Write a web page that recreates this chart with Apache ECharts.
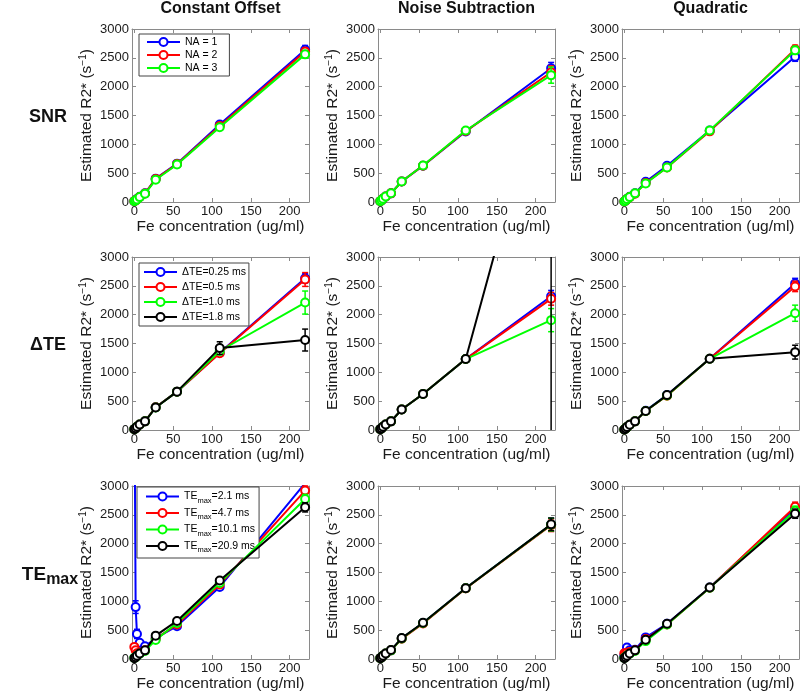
<!DOCTYPE html>
<html><head><meta charset="utf-8">
<script src="https://cdn.jsdelivr.net/npm/echarts@6/dist/echarts.min.js"></script>
<style>html,body{margin:0;padding:0;background:#fff}#c{width:800px;height:693px}</style>
</head><body><div id="c"></div>
<script>
// ---------- data ----------
const fe = [0, 1.7, 3.4, 6.9, 13.75, 27.5, 55, 110, 220];
const xTicks = [0, 50, 100, 150, 200];
const yTicks = [0, 500, 1000, 1500, 2000, 2500, 3000];
const columnTitles = ['Constant Offset', 'Noise Subtraction', 'Quadratic'];
const rowLabels = ['SNR', 'ΔTE', 'TEmax'];
const snrNames = ['NA = 1', 'NA = 2', 'NA = 3'];
const dteNames = ['ΔTE=0.25 ms', 'ΔTE=0.5 ms', 'ΔTE=1.0 ms', 'ΔTE=1.8 ms'];
const temNames = ['TEmax=2.1 ms', 'TEmax=4.7 ms', 'TEmax=10.1 ms', 'TEmax=20.9 ms'];

// Row 1: SNR
const snrCO_NA1 = [15, 30, 50, 90, 150, 405, 665, 1345, 2640];
const snrCO_NA2 = [15, 28, 48, 88, 148, 400, 658, 1320, 2610];
const snrCO_NA3 = [12, 26, 45, 85, 145, 385, 650, 1295, 2560];
const snrCO_NA1_err = [8, 8, 8, 10, 15, 25, 30, 40, 75];
const snrCO_NA2_err = [8, 8, 8, 10, 15, 25, 30, 40, 65];
const snrCO_NA3_err = [8, 8, 8, 10, 15, 25, 30, 40, 65];
const snrNS_NA1 = [15, 30, 55, 95, 150, 355, 630, 1222, 2320];
const snrNS_NA2 = [15, 30, 55, 95, 150, 355, 630, 1230, 2250];
const snrNS_NA3 = [15, 30, 55, 95, 152, 355, 632, 1240, 2200];
const snrNS_NA1_err = [8, 8, 8, 10, 15, 20, 25, 35, 100];
const snrNS_NA2_err = [8, 8, 8, 10, 15, 20, 25, 35, 110];
const snrNS_NA3_err = [8, 8, 8, 10, 15, 20, 25, 35, 140];
const snrQD_NA1 = [10, 25, 50, 90, 150, 352, 628, 1238, 2520];
const snrQD_NA2 = [10, 25, 50, 85, 145, 330, 600, 1225, 2650];
const snrQD_NA3 = [10, 25, 50, 85, 150, 322, 600, 1242, 2630];
const snrQD_NA1_err = [8, 8, 8, 10, 15, 20, 25, 35, 80];
const snrQD_NA2_err = [8, 8, 8, 10, 15, 20, 25, 35, 70];
const snrQD_NA3_err = [8, 8, 8, 10, 15, 20, 25, 35, 70];

// Row 2: delta TE
const dteCO_025 = [15, 30, 55, 95, 150, 395, 665, 1340, 2630];
const dteCO_05 = [15, 30, 55, 95, 150, 395, 665, 1330, 2610];
const dteCO_10 = [15, 30, 55, 95, 150, 390, 665, 1370, 2210];
const dteCO_18 = [15, 30, 55, 95, 150, 390, 665, 1420, 1560];
const dteCO_025_err = [8, 8, 8, 10, 15, 20, 25, 40, 80];
const dteCO_05_err = [8, 8, 8, 10, 15, 20, 25, 40, 120];
const dteCO_10_err = [8, 8, 8, 10, 15, 20, 25, 60, 200];
const dteCO_18_err = [8, 8, 8, 10, 15, 20, 25, 110, 190];
const dteNS_025 = [15, 30, 55, 95, 150, 355, 625, 1230, 2320];
const dteNS_05 = [15, 30, 55, 95, 150, 355, 625, 1230, 2275];
const dteNS_10 = [15, 30, 55, 95, 150, 355, 625, 1230, 1905];
const dteNS_18 = [15, 30, 55, 95, 150, 355, 625, 1230, 6640];
const dteNS_025_err = [8, 8, 8, 10, 15, 20, 25, 40, 100];
const dteNS_05_err = [8, 8, 8, 10, 15, 20, 25, 40, 110];
const dteNS_10_err = [8, 8, 8, 10, 15, 20, 25, 40, 200];
const dteNS_18_err = [8, 8, 8, 10, 15, 20, 25, 40, 9000];
const dteQD_025 = [10, 25, 50, 90, 150, 335, 605, 1235, 2540];
const dteQD_05 = [10, 25, 50, 90, 150, 330, 595, 1235, 2490];
const dteQD_10 = [10, 25, 50, 90, 150, 330, 600, 1235, 2025];
const dteQD_18 = [10, 25, 50, 90, 150, 330, 605, 1235, 1350];
const dteQD_025_err = [8, 8, 8, 10, 15, 20, 25, 35, 90];
const dteQD_05_err = [8, 8, 8, 10, 15, 20, 25, 35, 90];
const dteQD_10_err = [8, 8, 8, 10, 15, 20, 25, 35, 140];
const dteQD_18_err = [8, 8, 8, 10, 15, 20, 25, 35, 120];

// Row 3: TEmax
const temCO_21 = [5000, 900, 435, 280, 220, 360, 570, 1250, 3050];
const temCO_47 = [210, 150, 100, 110, 150, 350, 600, 1290, 2920];
const temCO_101 = [20, 30, 55, 90, 140, 330, 625, 1320, 2775];
const temCO_209 = [15, 30, 55, 95, 150, 405, 660, 1360, 2630];
const temCO_21_err = [0, 110, 80, 40, 30, 25, 30, 40, 90];
const temCO_47_err = [40, 30, 20, 15, 15, 20, 25, 40, 80];
const temCO_101_err = [8, 8, 8, 10, 15, 20, 25, 40, 80];
const temCO_209_err = [8, 8, 8, 10, 15, 20, 25, 40, 80];
const temNS_21 = [15, 30, 55, 95, 150, 355, 625, 1232, 2330];
const temNS_47 = [15, 30, 55, 95, 150, 350, 615, 1225, 2320];
const temNS_101 = [15, 30, 55, 95, 150, 355, 625, 1228, 2330];
const temNS_209 = [15, 30, 55, 95, 155, 362, 628, 1228, 2335];
const temNS_21_err = [8, 8, 8, 10, 15, 20, 25, 35, 110];
const temNS_47_err = [8, 8, 8, 10, 15, 20, 25, 35, 110];
const temNS_101_err = [8, 8, 8, 10, 15, 20, 25, 35, 110];
const temNS_209_err = [8, 8, 8, 10, 15, 20, 25, 35, 110];
const temQD_21 = [60, 110, 200, 150, 160, 375, 610, 1240, 2610];
const temQD_47 = [100, 90, 110, 120, 150, 345, 600, 1235, 2640];
const temQD_101 = [20, 40, 60, 90, 140, 310, 600, 1235, 2570];
const temQD_209 = [15, 30, 55, 95, 150, 335, 612, 1240, 2520];
const temQD_21_err = [20, 30, 40, 30, 20, 20, 25, 35, 90];
const temQD_47_err = [20, 20, 20, 15, 15, 20, 25, 35, 80];
const temQD_101_err = [8, 8, 8, 10, 15, 20, 25, 35, 80];
const temQD_209_err = [8, 8, 8, 10, 15, 20, 25, 35, 80];

// ---------- layout ----------
const colLeft = [132, 378, 622];
const rowTop = [29, 257, 486];
const plotW = 177, plotH = 173;
const colors = ['#0000ff', '#ff0000', '#00ff00', '#000000'];
const FONT = 'Liberation Sans, Arial, Helvetica, sans-serif';
const axisGray = '#8a8a8a';
const textCol = '#1a1a1a';

const panels = [
  [
    { names: snrNames, vals: [snrCO_NA1, snrCO_NA2, snrCO_NA3], errs: [snrCO_NA1_err, snrCO_NA2_err, snrCO_NA3_err] },
    { names: snrNames, vals: [snrNS_NA1, snrNS_NA2, snrNS_NA3], errs: [snrNS_NA1_err, snrNS_NA2_err, snrNS_NA3_err] },
    { names: snrNames, vals: [snrQD_NA1, snrQD_NA2, snrQD_NA3], errs: [snrQD_NA1_err, snrQD_NA2_err, snrQD_NA3_err] }
  ],
  [
    { names: dteNames, vals: [dteCO_025, dteCO_05, dteCO_10, dteCO_18], errs: [dteCO_025_err, dteCO_05_err, dteCO_10_err, dteCO_18_err] },
    { names: dteNames, vals: [dteNS_025, dteNS_05, dteNS_10, dteNS_18], errs: [dteNS_025_err, dteNS_05_err, dteNS_10_err, dteNS_18_err] },
    { names: dteNames, vals: [dteQD_025, dteQD_05, dteQD_10, dteQD_18], errs: [dteQD_025_err, dteQD_05_err, dteQD_10_err, dteQD_18_err] }
  ],
  [
    { names: temNames, vals: [temCO_21, temCO_47, temCO_101, temCO_209], errs: [temCO_21_err, temCO_47_err, temCO_101_err, temCO_209_err] },
    { names: temNames, vals: [temNS_21, temNS_47, temNS_101, temNS_209], errs: [temNS_21_err, temNS_47_err, temNS_101_err, temNS_209_err] },
    { names: temNames, vals: [temQD_21, temQD_47, temQD_101, temQD_209], errs: [temQD_21_err, temQD_47_err, temQD_101_err, temQD_209_err] }
  ]
];

function renderErr(params, api) {
  const x = api.value(0), y = api.value(1), e = api.value(2);
  if (!e) return;
  const cs = params.coordSys;
  const top = cs.y, bot = cs.y + cs.height;
  const pHi = api.coord([x, y + e]);
  const pLo = api.coord([x, y - e]);
  const px = pHi[0];
  const y1 = Math.max(top, Math.min(bot, pHi[1]));
  const y2 = Math.max(top, Math.min(bot, pLo[1]));
  if (y1 === y2) return;
  const style = { stroke: api.visual('color'), lineWidth: 1.5 };
  const w = 3;
  const children = [{ type: 'line', shape: { x1: px, y1: y1, x2: px, y2: y2 }, style }];
  if (pHi[1] >= top && pHi[1] <= bot) children.push({ type: 'line', shape: { x1: px - w, y1: pHi[1], x2: px + w, y2: pHi[1] }, style });
  if (pLo[1] >= top && pLo[1] <= bot) children.push({ type: 'line', shape: { x1: px - w, y1: pLo[1], x2: px + w, y2: pLo[1] }, style });
  return { type: 'group', children };
}

const grids = [], xAxes = [], yAxes = [], series = [];
const numFmt = v => String(v);
for (let r = 0; r < 3; r++) {
  for (let c = 0; c < 3; c++) {
    const gi = r * 3 + c;
    grids.push({ left: colLeft[c], top: rowTop[r], width: plotW, height: plotH, show: false });
    const lineSt = { show: true, onZero: false, lineStyle: { color: axisGray, width: 1 } };
    xAxes.push({
      type: 'value', gridIndex: gi, position: 'bottom', min: -3, max: 225,
      axisLine: lineSt,
      axisTick: { show: true, inside: true, length: 4, customValues: xTicks, lineStyle: { color: axisGray } },
      axisLabel: { show: true, customValues: xTicks, fontSize: 13, color: textCol, margin: 3, formatter: numFmt, fontFamily: FONT },
      splitLine: { show: false },
      name: 'Fe concentration (ug/ml)', nameLocation: 'middle', nameGap: 16,
      nameTextStyle: { fontSize: 15.5, color: textCol, fontFamily: FONT, verticalAlign: 'top' }
    });
    xAxes.push({
      type: 'value', gridIndex: gi, position: 'top', min: -3, max: 225,
      axisLine: lineSt,
      axisTick: { show: true, inside: true, length: 4, customValues: xTicks, lineStyle: { color: axisGray } },
      axisLabel: { show: false }, splitLine: { show: false }
    });
    yAxes.push({
      type: 'value', gridIndex: gi, position: 'left', min: 0, max: 3000,
      axisLine: lineSt,
      axisTick: { show: true, inside: true, length: 4, customValues: yTicks, lineStyle: { color: axisGray } },
      axisLabel: { show: true, customValues: yTicks, fontSize: 13, color: textCol, margin: 3, formatter: numFmt, fontFamily: FONT },
      splitLine: { show: false },
      name: 'Estimated R2* (s{s|−1})', nameLocation: 'middle', nameGap: 33, nameRotate: 90,
      nameTextStyle: {
        fontSize: 15.5, color: textCol, fontFamily: FONT, lineHeight: 18,
        rich: { s: { fontSize: 10, color: textCol, fontFamily: FONT, verticalAlign: 'top', lineHeight: 12 } }
      }
    });
    yAxes.push({
      type: 'value', gridIndex: gi, position: 'right', min: 0, max: 3000,
      axisLine: lineSt,
      axisTick: { show: true, inside: true, length: 4, customValues: yTicks, lineStyle: { color: axisGray } },
      axisLabel: { show: false }, splitLine: { show: false }
    });
    const p = panels[r][c];
    p.vals.forEach((vals, k) => {
      const col = colors[k];
      series.push({
        type: 'line', name: p.names[k], xAxisIndex: 2 * gi, yAxisIndex: 2 * gi,
        data: fe.map((x, i) => [x, vals[i]]),
        symbol: 'emptyCircle', symbolSize: 8, clip: true, color: col,
        lineStyle: { width: 2, color: col }, itemStyle: { color: col, borderWidth: 1.8 },
        z: 2 + k, animation: false
      });
      series.push({
        type: 'custom', xAxisIndex: 2 * gi, yAxisIndex: 2 * gi,
        data: fe.map((x, i) => [x, vals[i], p.errs[k][i]]),
        encode: { x: 0, y: 1 }, renderItem: renderErr, itemStyle: { color: col },
        z: 2 + k, silent: true, animation: false
      });
    });
  }
}

const legendBase = {
  orient: 'vertical', backgroundColor: '#fff', borderColor: '#444', borderWidth: 1,
  itemWidth: 33, itemHeight: 10, selectedMode: false,
  textStyle: { fontSize: 10.5, color: '#000', fontFamily: FONT, lineHeight: 12 }
};
const legends = [
  Object.assign({}, legendBase, { data: snrNames, left: 139, top: 34, padding: [2, 12, 2, 7], itemGap: 1 }),
  Object.assign({}, legendBase, { data: dteNames, left: 139, top: 263, padding: [3, 3, 3, 4], itemGap: 3 }),
  Object.assign({}, legendBase, {
    data: temNames, left: 137, top: 487, padding: [4, 4, 4, 8], itemGap: 3,
    formatter: n => '{a|TE}{b|max}{a|' + n.slice(5) + '}',
    textStyle: {
      fontSize: 10.5, color: '#000', fontFamily: FONT,
      rich: {
        a: { fontSize: 10.5, fontFamily: FONT, color: '#000', lineHeight: 16, verticalAlign: 'middle' },
        b: { fontSize: 7.5, fontFamily: FONT, color: '#000', lineHeight: 9, verticalAlign: 'bottom' }
      }
    }
  })
];

const graphics = [];
columnTitles.forEach((t, c) => {
  graphics.push({
    type: 'text', x: colLeft[c] + plotW / 2, y: 9,
    style: { text: t, fontFamily: FONT, fontSize: 16, fontWeight: 'bold', fill: '#111', align: 'center', verticalAlign: 'middle' }
  });
});
rowLabels.forEach((t, r) => {
  const isTem = t === 'TEmax';
  graphics.push({
    type: 'text', x: isTem ? 50 : 48, y: rowTop[r] + plotH / 2 + 2,
    style: isTem ? {
      text: '{a|TE}{b|max}', align: 'center', verticalAlign: 'middle',
      rich: {
        a: { fontFamily: FONT, fontSize: 19, fontWeight: 'bold', fill: '#111', lineHeight: 26, verticalAlign: 'middle' },
        b: { fontFamily: FONT, fontSize: 16, fontWeight: 'bold', fill: '#111', lineHeight: 16, verticalAlign: 'bottom' }
      }
    } : { text: t, fontFamily: FONT, fontSize: 18, fontWeight: 'bold', fill: '#111', align: 'center', verticalAlign: 'middle' }
  });
});

const chart = echarts.init(document.getElementById('c'), null, { renderer: 'canvas' });
chart.setOption({
  animation: false,
  backgroundColor: '#fff',
  textStyle: { fontFamily: FONT },
  grid: grids, xAxis: xAxes, yAxis: yAxes,
  legend: legends, series: series, graphic: graphics
});
</script>
</body></html>
